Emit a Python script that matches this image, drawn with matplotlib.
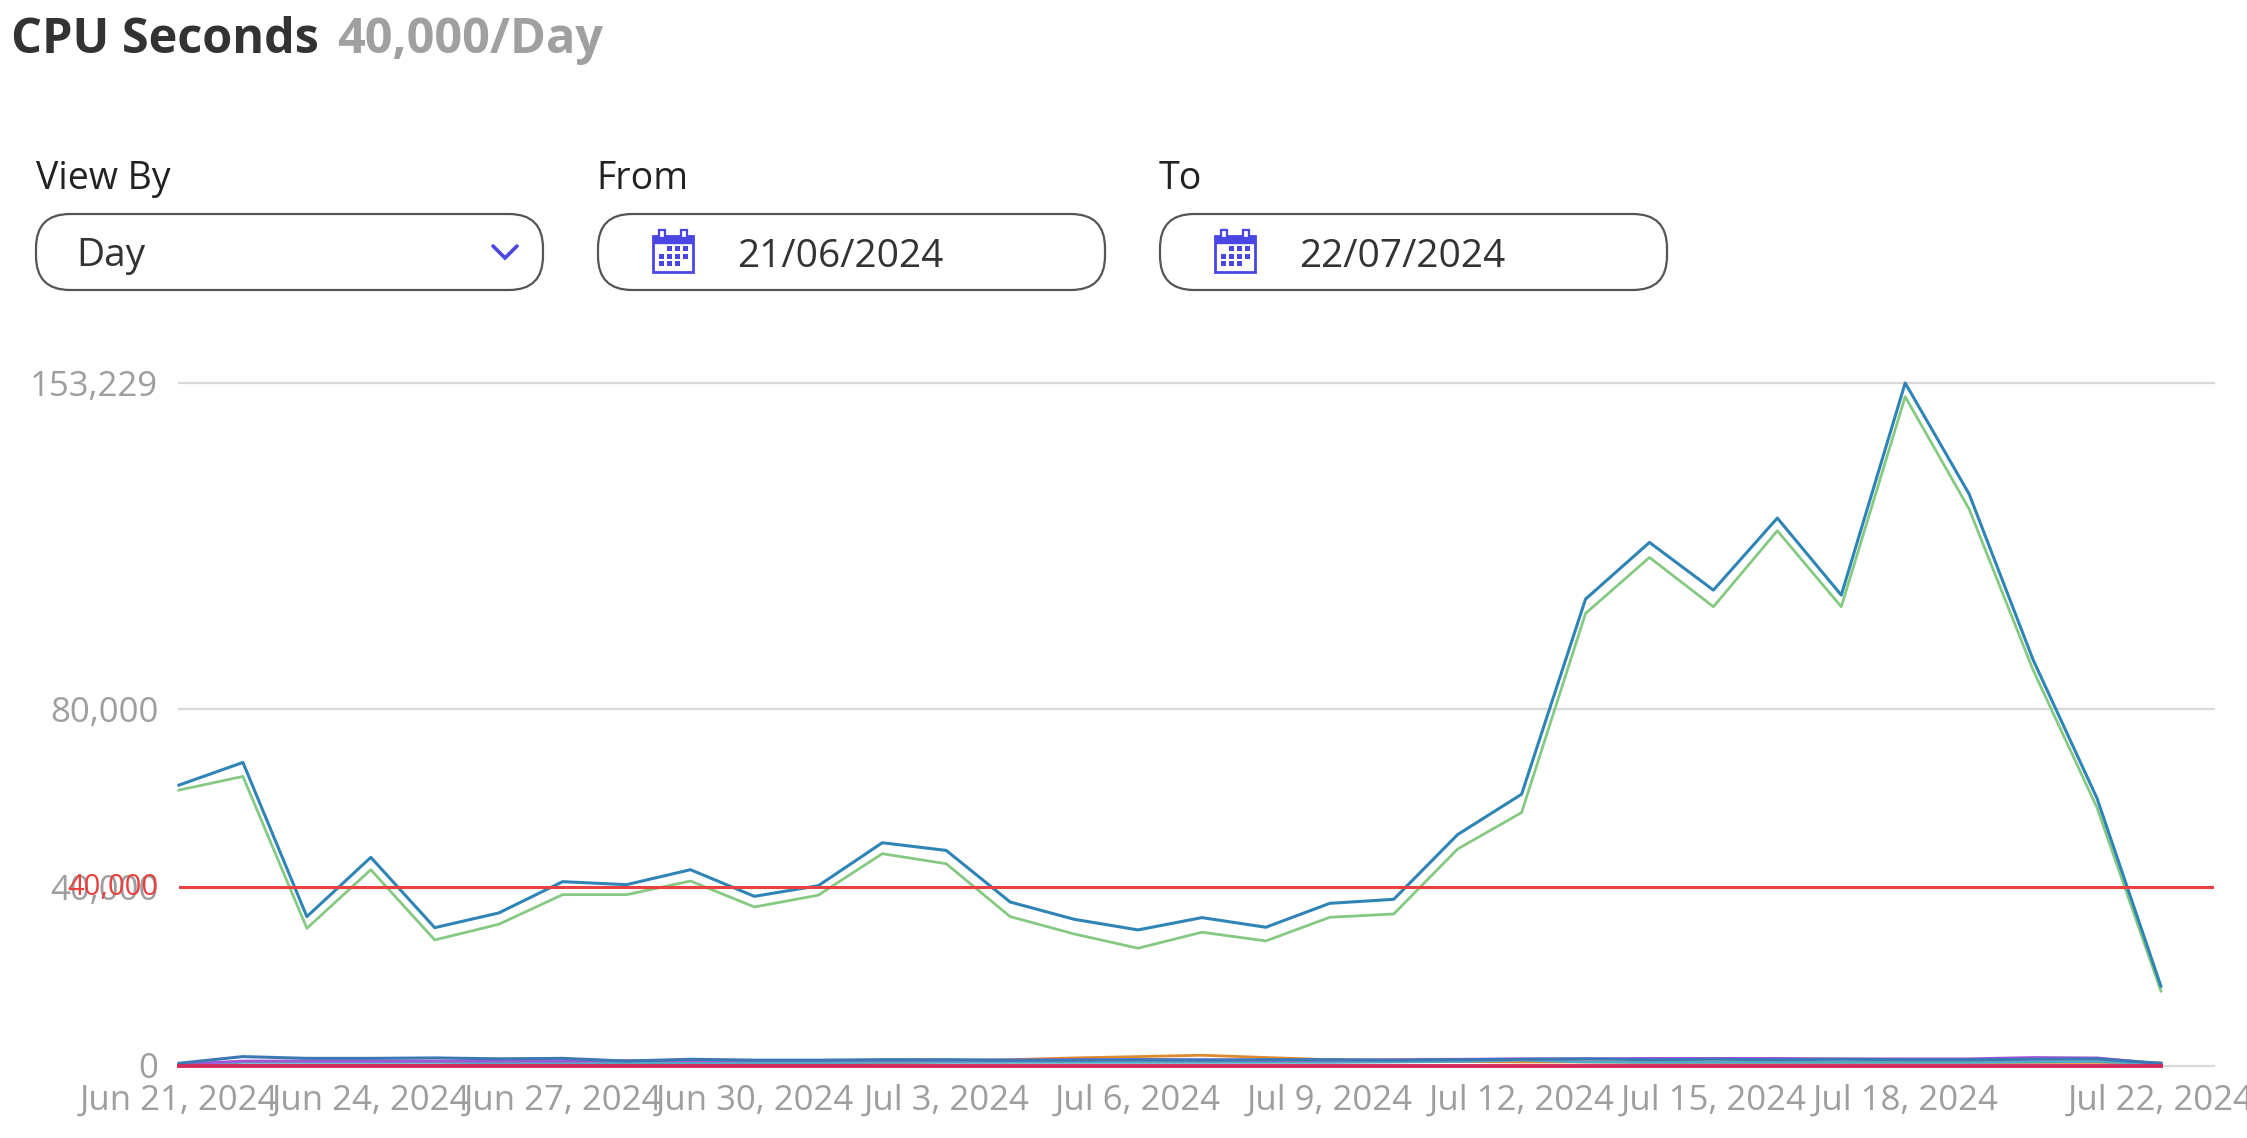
import matplotlib
matplotlib.use("Agg")
import matplotlib.pyplot as plt
from matplotlib.patches import FancyBboxPatch, Rectangle
from matplotlib.lines import Line2D
import matplotlib.transforms as mtransforms

# ---------------- data ----------------
dates = ["Jun 21", "Jun 22", "Jun 23", "Jun 24", "Jun 25", "Jun 26", "Jun 27", "Jun 28",
         "Jun 29", "Jun 30", "Jul 1", "Jul 2", "Jul 3", "Jul 4", "Jul 5", "Jul 6",
         "Jul 7", "Jul 8", "Jul 9", "Jul 10", "Jul 11", "Jul 12", "Jul 13", "Jul 14",
         "Jul 15", "Jul 16", "Jul 17", "Jul 18", "Jul 19", "Jul 20", "Jul 21", "Jul 22"]

total_cpu = [62950, 68040, 33420, 46730, 30950, 34240, 41270, 40600, 43960, 37980,
             40370, 50010, 48290, 36710, 32830, 30440, 33200, 31040, 36410, 37310,
             51850, 60900, 104710, 117440, 106730, 122910, 105610, 153229, 128300,
             91100, 60000, 17800]

main_cpu = [61830, 64900, 30800, 43960, 28190, 31700, 38360, 38360, 41420, 35590,
            38240, 47550, 45300, 33430, 29540, 26330, 29920, 27970, 33280, 34020,
            48610, 56790, 101490, 114070, 102990, 120060, 102990, 150160, 124930,
            88800, 57900, 16700]

small_blue = [500, 2000, 1600, 1600, 1700, 1500, 1600, 1000, 1400, 1200, 1200, 1300,
              1300, 1200, 1200, 1300, 1200, 1300, 1300, 1200, 1300, 1400, 1500, 1300,
              1400, 1300, 1400, 1300, 1300, 1400, 1500, 500]
small_purple = [300, 1000, 1000, 1000, 1000, 1000, 1000, 1100, 1100, 1100, 1100, 1200,
                1200, 1200, 1300, 1300, 1300, 1200, 1200, 1300, 1400, 1500, 1500, 1600,
                1600, 1600, 1500, 1500, 1500, 1800, 1700, 400]
small_orange = [0, 0, 0, 0, 0, 0, 0, 0, 0, 0, 200, 500, 900, 1300, 1700, 2000, 2300,
                1800, 1300, 1000, 900, 800, 800, 700, 700, 700, 700, 700, 700, 700, 700, 600]
small_teal = [200, 700, 700, 700, 700, 600, 600, 600, 600, 600, 600, 700, 700, 700, 700,
              700, 700, 700, 700, 800, 900, 1200, 800, 700, 700, 700, 700, 700, 700, 800,
              900, 300]
small_red = [0] * 32

threshold = 40000
y_ticks = [0, 40000, 80000, 153229]
y_tick_labels = ["0", "40,000", "80,000", "153,229"]
x_tick_idx = [0, 3, 6, 9, 12, 15, 18, 21, 24, 27, 31]
x_tick_labels = ["Jun 21, 2024", "Jun 24, 2024", "Jun 27, 2024", "Jun 30, 2024",
                 "Jul 3, 2024", "Jul 6, 2024", "Jul 9, 2024", "Jul 12, 2024",
                 "Jul 15, 2024", "Jul 18, 2024", "Jul 22, 2024"]

# ---------------- figure ----------------
FONT = ["Open Sans", "DejaVu Sans"]
plt.rcParams["font.family"] = FONT
W, H = 2247, 1138
fig = plt.figure(figsize=(W / 100, H / 100), dpi=100)
fig.patch.set_facecolor("white")

GREY = "#9e9e9e"
INDIGO = "#4a46e4"

# chart axes
ax_left, ax_right = 179, 2214
ax_bottom, ax_top = 1065.5, 383
ax = fig.add_axes([ax_left / W, 1 - ax_bottom / H, (ax_right - ax_left) / W,
                   (ax_bottom - ax_top) / H])
x = list(range(len(dates)))
ax.set_xlim(0, 31.83)
ax.set_ylim(0, 153229)
for s in ax.spines.values():
    s.set_visible(False)
ax.set_facecolor("none")

for gy in [0, 80000, 153229]:
    ax.axhline(gy, color="#d9d9d9", lw=1.6, zorder=1, clip_on=False)

ax.plot(x, small_orange, color="#e08a30", lw=2.0, zorder=2, clip_on=False)
ax.plot(x, small_teal, color="#55a9c2", lw=2.0, zorder=2, clip_on=False)
ax.plot(x, small_purple, color="#a455d6", lw=2.0, zorder=3, clip_on=False)
ax.plot(x, small_blue, color="#3c79b4", lw=2.2, zorder=3, clip_on=False)
ax.plot(x, small_red, color="#d62a5c", lw=2.8, zorder=4, clip_on=False)

ax.plot(x, main_cpu, color="#86c982", lw=2.0, zorder=5, clip_on=False)
ax.plot(x, total_cpu, color="#2f84b6", lw=2.2, zorder=6, clip_on=False)

ax.axhline(threshold, color="#e8413f", lw=2.2, zorder=7)

ax.set_yticks(y_ticks)
ax.set_yticklabels(y_tick_labels)
ax.set_xticks(x_tick_idx)
ax.set_xticklabels(x_tick_labels)
ax.tick_params(axis="y", length=0, pad=15, labelsize=25, labelcolor=GREY)
ax.tick_params(axis="x", length=0, pad=13, labelsize=25, labelcolor=GREY)
for lab in ax.get_xticklabels():
    lab.set_clip_on(False)

# red threshold label overlaid on the y tick label
trans = mtransforms.blended_transform_factory(ax.transAxes, ax.transData)
offset = mtransforms.ScaledTranslation(-15 / 72, 0, fig.dpi_scale_trans)
ax.text(0, threshold, "40,000", transform=trans + offset, ha="right", va="center",
        color="#e8413f", fontsize=21, zorder=8)

# ---------------- header / controls (pixel overlay) ----------------
ov = fig.add_axes([0, 0, 1, 1], zorder=10)
ov.set_xlim(0, W)
ov.set_ylim(H, 0)
ov.axis("off")
ov.patch.set_alpha(0)

ov.text(11, 53, "CPU Seconds", fontsize=35, fontweight="bold", color="#333333",
        va="baseline", ha="left")
ov.text(337, 53, "40,000/Day", fontsize=35, fontweight="bold", color="#a0a0a0",
        va="baseline", ha="left")

for lx, lt in [(36, "View By"), (596, "From"), (1159, "To")]:
    ov.text(lx, 189, lt, fontsize=27, color="#222222", va="baseline", ha="left",
            fontweight="medium")

for bx in [36, 598, 1160]:
    ov.add_patch(FancyBboxPatch((bx, 214), 507, 76,
                                boxstyle="round,pad=0,rounding_size=34",
                                facecolor="white", edgecolor="#555555", lw=1.6))

ov.text(76, 266, "Day", fontsize=28, color="#333333", va="baseline", ha="left")
ov.add_line(Line2D([493, 505, 517], [246, 258, 246], color=INDIGO, lw=2.6,
                   solid_capstyle="round", solid_joinstyle="miter"))


def calendar(x0, y0):
    ov.add_patch(Rectangle((x0, y0 + 6), 40, 36, facecolor="white",
                           edgecolor=INDIGO, lw=2.0))
    ov.add_patch(Rectangle((x0, y0 + 6), 40, 7, facecolor=INDIGO, edgecolor=INDIGO, lw=1))
    for rx in (x0 + 6, x0 + 28):
        ov.add_patch(Rectangle((rx, y0), 6, 8, facecolor="white", edgecolor=INDIGO, lw=1.6))
    cols = [x0 + 6, x0 + 14, x0 + 22, x0 + 30]
    rows = [y0 + 16, y0 + 23.5, y0 + 31]
    cells = [(0, 1), (0, 2), (0, 3), (1, 0), (1, 1), (1, 2), (1, 3), (2, 0), (2, 1), (2, 2)]
    for r, c in cells:
        ov.add_patch(Rectangle((cols[c], rows[r]), 5, 5, facecolor=INDIGO, edgecolor="none"))


calendar(653, 230)
calendar(1215, 230)
ov.text(737, 267, "21/06/2024", fontsize=28, color="#333333", va="baseline", ha="left")
ov.text(1299, 267, "22/07/2024", fontsize=28, color="#333333", va="baseline", ha="left")

fig.savefig("out.png", dpi=100, facecolor="white")
